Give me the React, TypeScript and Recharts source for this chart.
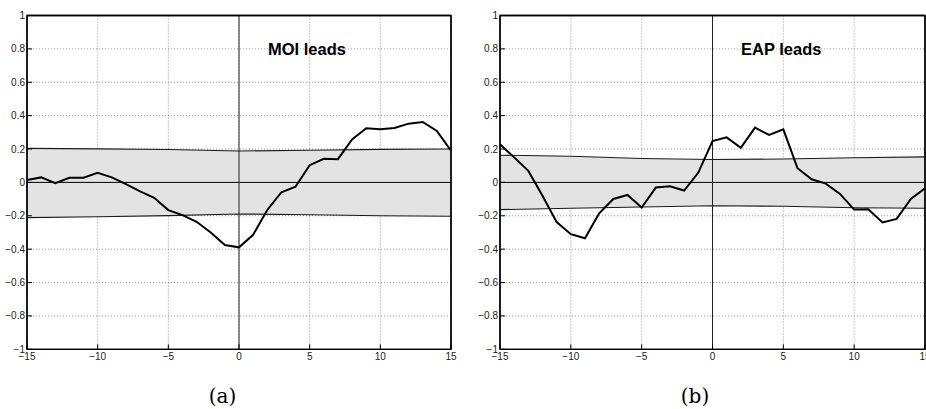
import React from 'react';
import {
  ComposedChart,
  Line,
  Area,
  XAxis,
  YAxis,
  CartesianGrid,
  ReferenceLine,
  ReferenceArea,
} from 'recharts';

const lags = [-15, -14, -13, -12, -11, -10, -9, -8, -7, -6, -5, -4, -3, -2, -1, 0, 1, 2, 3, 4, 5, 6, 7, 8, 9, 10, 11, 12, 13, 14, 15];

const moiCorr = [0.015, 0.03, -0.004, 0.028, 0.028, 0.058, 0.03, -0.01, -0.054, -0.092, -0.166, -0.196, -0.236, -0.3, -0.375, -0.389, -0.314, -0.165, -0.059, -0.025, 0.103, 0.141, 0.139, 0.258, 0.324, 0.318, 0.326, 0.352, 0.362, 0.308, 0.19];

const eapCorr = [0.228, 0.15, 0.069, -0.08, -0.238, -0.31, -0.335, -0.185, -0.099, -0.075, -0.151, -0.031, -0.023, -0.049, 0.059, 0.248, 0.27, 0.207, 0.328, 0.284, 0.318, 0.085, 0.019, -0.007, -0.069, -0.163, -0.161, -0.24, -0.219, -0.099, -0.035];

const bandLags = [-15, -10, -5, 0, 5, 10, 15];
const moiUpper = [0.204, 0.201, 0.197, 0.188, 0.193, 0.198, 0.2];
const moiLower = [-0.211, -0.206, -0.199, -0.189, -0.194, -0.2, -0.203];
const eapUpper = [0.163, 0.157, 0.143, 0.137, 0.14, 0.148, 0.153];
const eapLower = [-0.163, -0.155, -0.147, -0.14, -0.143, -0.152, -0.155];

const xTicks = [-15, -10, -5, 0, 5, 10, 15];
const yTicks = [-1, -0.8, -0.6, -0.4, -0.2, 0, 0.2, 0.4, 0.6, 0.8, 1];

const titles = ['MOI leads', 'EAP leads'];
const captions = ['(a)', '(b)'];

const SANS = "'Liberation Sans', Arial, Helvetica, sans-serif";
const SERIF = "'DejaVu Serif', serif";

const fmt = (v: number) => {
  const s = String(Math.abs(v));
  return v < 0 ? '\u2212' + s : s;
};

const tickStyle = { fontFamily: SANS, fontSize: 10, fill: '#222' };

type PanelProps = {
  values: number[];
  upper: number[];
  lower: number[];
  width: number;
  yAxisWidth: number;
  marginRight: number;
};

function Panel({ values, upper, lower, width, yAxisWidth, marginRight }: PanelProps) {
  const lineData = lags.map((l, i) => ({ lag: l, v: values[i] }));
  const bandData = bandLags.map((l, i) => ({ lag: l, range: [lower[i], upper[i]], hi: upper[i], lo: lower[i] }));
  return (
    <ComposedChart
      width={width}
      height={409}
      margin={{ top: 14.5, right: marginRight - 1, bottom: 39.7, left: 0 }}
      style={{ fontFamily: SANS }}
    >
      <CartesianGrid stroke="#777" strokeDasharray="1 2" strokeWidth={0.8} />
      <XAxis
        dataKey="lag"
        type="number"
        domain={[-15, 15]}
        ticks={xTicks}
        allowDataOverflow
        height={20}
        tickSize={-5}
        tickMargin={9}
        tickFormatter={fmt}
        tick={tickStyle}
        axisLine={{ stroke: '#000', strokeWidth: 1.3 }}
        tickLine={{ stroke: '#000', strokeWidth: 1 }}
        interval={0}
      />
      <XAxis
        xAxisId="top"
        orientation="top"
        dataKey="lag"
        type="number"
        domain={[-15, 15]}
        ticks={xTicks}
        height={1}
        tickSize={-5}
        tickFormatter={() => ''}
        axisLine={{ stroke: '#000', strokeWidth: 1.3 }}
        tickLine={{ stroke: '#000', strokeWidth: 1 }}
        interval={0}
      />
      <YAxis
        type="number"
        domain={[-1, 1]}
        ticks={yTicks}
        allowDataOverflow
        width={yAxisWidth}
        tickSize={-5}
        tickMargin={7}
        tickFormatter={fmt}
        tick={tickStyle}
        axisLine={{ stroke: '#000', strokeWidth: 1.3 }}
        tickLine={{ stroke: '#000', strokeWidth: 1 }}
        interval={0}
      />
      <YAxis
        yAxisId="right"
        orientation="right"
        type="number"
        domain={[-1, 1]}
        ticks={yTicks}
        width={1}
        tickSize={-5}
        tickFormatter={() => ''}
        axisLine={{ stroke: '#000', strokeWidth: 1.3 }}
        tickLine={{ stroke: '#000', strokeWidth: 1 }}
        interval={0}
      />
      <Area
        data={bandData}
        dataKey="range"
        type="linear"
        stroke="none"
        fill="#e3e3e3"
        fillOpacity={1}
        isAnimationActive={false}
        activeDot={false}
      />
      <Line data={bandData} dataKey="hi" type="linear" stroke="#1a1a1a" strokeWidth={1.1} dot={false} isAnimationActive={false} activeDot={false} />
      <Line data={bandData} dataKey="lo" type="linear" stroke="#1a1a1a" strokeWidth={1.1} dot={false} isAnimationActive={false} activeDot={false} />
      <ReferenceLine y={0} stroke="#000" strokeWidth={1} />
      <ReferenceLine x={0} stroke="#222" strokeWidth={1} />
      <Line
        data={lineData}
        dataKey="v"
        type="linear"
        stroke="#000"
        strokeWidth={2}
        dot={false}
        isAnimationActive={false}
        activeDot={false}
      />
      <ReferenceArea x1={-15} x2={15} y1={-1} y2={1} fill="none" fillOpacity={0} stroke="#000" strokeWidth={1.3} ifOverflow="visible" />
    </ComposedChart>
  );
}

export default function App() {
  return (
    <div style={{ position: 'absolute', left: 0, top: 0, width: 926, height: 409, background: '#fff', overflow: 'hidden' }}>
      <div style={{ position: 'absolute', left: 0, top: 0 }}>
        <Panel values={moiCorr} upper={moiUpper} lower={moiLower} width={463} yAxisWidth={27} marginRight={12} />
      </div>
      <div style={{ position: 'absolute', left: 470, top: 0 }}>
        <Panel values={eapCorr} upper={eapUpper} lower={eapLower} width={456} yAxisWidth={30} marginRight={1} />
      </div>
      <svg width={926} height={409} style={{ position: 'absolute', left: 0, top: 0, pointerEvents: 'none' }}>
        <text x={268} y={55} fontFamily={SANS} fontWeight="bold" fontSize={16.5} fill="#000">
          {titles[0]}
        </text>
        <text x={741} y={55} fontFamily={SANS} fontWeight="bold" fontSize={16.5} fill="#000">
          {titles[1]}
        </text>
        <text x={222.5} y={403} textAnchor="middle" fontFamily={SERIF} fontSize={20} fill="#000">
          {captions[0]}
        </text>
        <text x={695} y={403} textAnchor="middle" fontFamily={SERIF} fontSize={20} fill="#000">
          {captions[1]}
        </text>
      </svg>
    </div>
  );
}
